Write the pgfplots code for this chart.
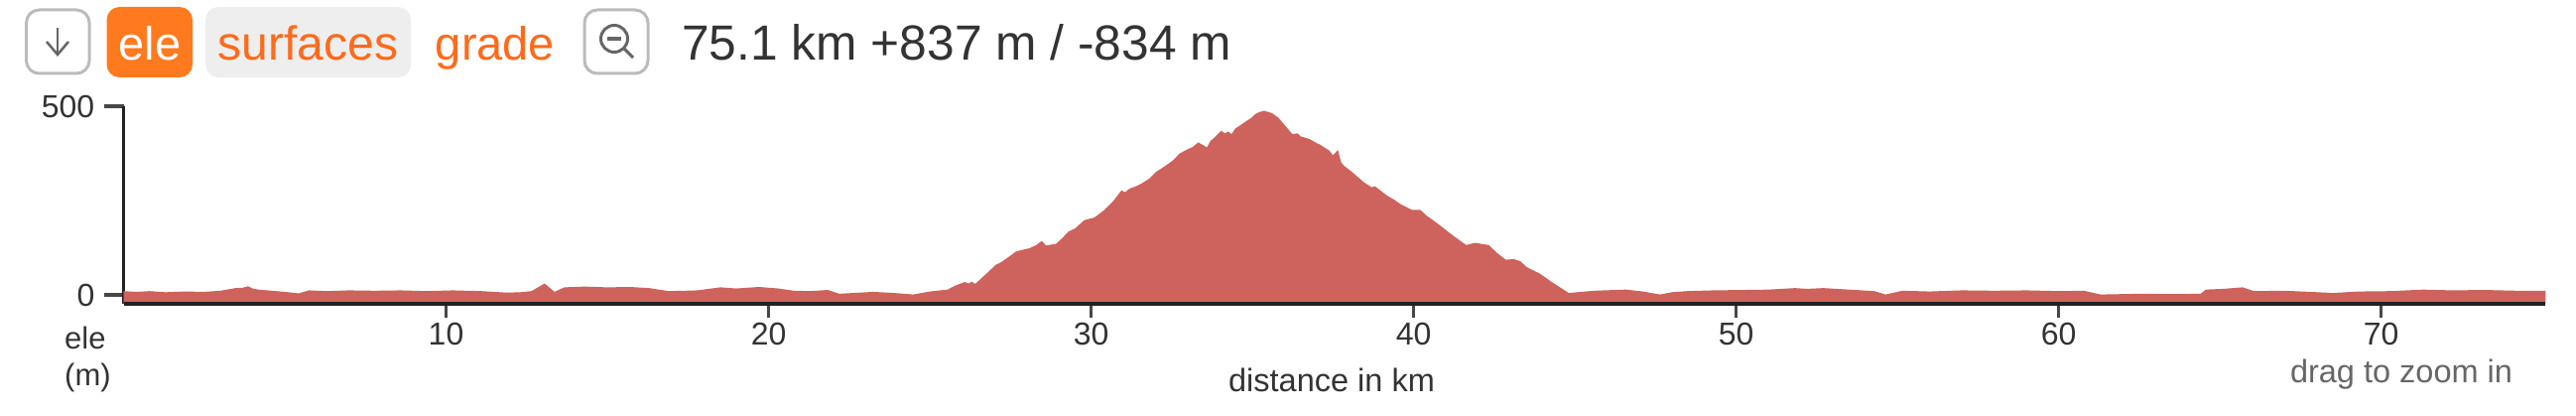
\documentclass[border=0pt]{standalone}
\usepackage{fontspec}
\setmainfont{Liberation Sans}
\usepackage{pgfplots}
\pgfplotsset{compat=1.18}
\definecolor{elefill}{HTML}{CD635C}
\definecolor{orangeA}{HTML}{FF7A1F}
\definecolor{orangeB}{HTML}{FF6A1A}
\definecolor{btn}{HTML}{BBBBBB}
\definecolor{chip}{HTML}{EEEEEE}
\definecolor{icon}{HTML}{666666}
\definecolor{ink}{HTML}{333333}
\definecolor{axisink}{HTML}{222222}
\newcommand{\fs}[1]{\fontsize{#1}{#1}\selectfont}
\begin{document}
\begin{tikzpicture}[x=1pt,y=1pt]
\useasboundingbox (0,0) rectangle (2596,418);
% toolbar
\draw[btn,line width=3pt,rounded corners=13pt] (26.5,344) rectangle (90,408);
\draw[icon,line width=2.5pt] (58,390) -- (58,363);
\draw[icon,line width=2.5pt] (47,376) -- (58,363) -- (69,376);
\fill[orangeA,rounded corners=13pt] (107.5,340) rectangle (194,411);
\node[anchor=base,text=white,inner sep=0pt] at (151,357) {\fs{47}ele};
\fill[chip,rounded corners=13pt] (207,340) rectangle (414,411);
\node[anchor=base,text=orangeB,inner sep=0pt] at (310.5,357) {\fs{48}surfaces};
\node[anchor=base,text=orangeB,inner sep=0pt] at (499,357) {\fs{47}grade};
\draw[btn,line width=3pt,rounded corners=13pt] (589,344) rectangle (653,408);
\draw[icon,line width=3pt] (619,379) circle (13.5);
\draw[icon,line width=3pt] (629,369) -- (638,360);
\draw[icon,line width=3.5pt] (612,379) -- (625.5,379);
\node[anchor=base west,text=ink,inner sep=0pt] at (687,357) {\fs{49.7}75.1 km +837 m / -834 m};
% y side labels
\node[anchor=west,text=ink,inner sep=0pt] at (65,78) {\fs{31}ele};
\node[anchor=west,text=ink,inner sep=0pt] at (65,38) {\fs{31}(m)};
\node[text=ink,inner sep=0pt] at (1342,35) {\fs{32.5}distance in km};
\node[text=icon,inner sep=0pt] at (2420,41) {\fs{32.5}drag to zoom in};
% y axis: ticks and spine
\begin{axis}[
  at={(124.5pt,112pt)},anchor=south west,
  width=2441pt,height=199pt,scale only axis,
  xmin=0,xmax=75.1,ymin=-23.7,ymax=500,
  axis x line=none,
  axis y line*=left,
  axis line style={axisink,line width=3.5pt,-},
  xtick=\empty,
  ytick={0,500},
  major tick length=20pt,
  tick align=outside,
  y tick style={color=icon!70!black,line width=3.5pt},
  yticklabel style={font=\fs{32},text=ink,inner sep=0pt,xshift=-9pt},
  /pgf/number format/assume math mode=true,
  clip=false,
]
\addplot[fill=elefill,draw=none] coordinates {
(0,-23.7)(0,10)(0.4,8)(0.8,10)(1.3,7)(1.9,9)(2.5,8)(3.0,11)(3.47,18)(3.7,19)(3.86,23)(4.0,17)(4.18,14)(4.6,11)(5.0,8)(5.43,4)(5.75,12)
(6.3,10)(7.0,12)(7.8,11)(8.6,12)(9.4,10)(10.2,12)(11.1,10)(11.87,6)(12.3,7)(12.65,10)(12.85,20)(13.05,30)(13.2,20)(13.36,8)(13.67,20)(14.3,22)(15.0,20)(15.7,21)(16.3,18)(16.9,10)(17.4,11)(17.8,12)(18.5,20)(19.0,17)(19.7,21)(20.3,17)(20.78,11)
(21.3,10)(21.84,13)(22.19,3)(23.25,8)(23.9,5)(24.49,1)(25.0,9)(25.55,14)(25.8,25)(26.08,34)(26.2,30)(26.3,35)(26.4,29)(26.52,38)(26.8,60)(27.05,80)(27.2,86)(27.3,92)(27.5,104)(27.67,115)(28.1,124)(28.3,132)(28.47,143)(28.6,131)(28.91,135)(29.1,150)(29.3,168)(29.5,176)(29.79,198)(30.1,205)(30.41,225)(30.7,250)(30.94,277)(31.05,272)(31.2,282)(31.4,288)(31.56,295)(31.8,308)(32.0,325)(32.3,342)(32.53,356)(32.75,375)(32.97,385)(33.15,392)(33.32,404)(33.45,398)(33.59,391)(33.7,408)(33.8,415)(34.03,435)(34.15,428)(34.25,433)(34.35,426)(34.47,441)(34.6,448)(34.8,460)(34.95,468)(35.09,479)(35.2,484)(35.36,488)(35.6,482)(35.80,470)(36.0,450)(36.24,426)(36.4,428)(36.5,420)(36.77,413)(37.0,402)(37.1,398)(37.39,382)(37.5,370)(37.65,384)(37.75,352)(37.83,343)(38.1,325)(38.45,299)(38.7,285)(38.8,288)(39.16,264)(39.4,252)(39.6,240)(39.95,225)(40.21,225)(40.4,210)(40.6,198)(40.85,182)(41.1,165)(41.4,146)(41.63,132)(41.9,138)(42.33,132)(42.6,110)(42.86,93)(43.1,95)(43.31,89)(43.5,74)(43.7,65)(43.9,57)(44.10,45)(44.3,33)(44.5,22)(44.81,5)(45.6,11)(46.58,14)(47.1,9)(47.64,1)(48.0,7)(48.48,10)
(49.3,12)(50.2,13)(51.0,14)(51.82,18)(52.2,16)(52.7,18)(53.5,14)(54.28,10)(54.63,1)(55.16,11)(56.0,9)(57.0,12)(58.0,11)(59.0,12)(60.0,10)(60.78,11)(61.3,1)(62.5,3)(63.5,2)(64.4,3)(64.56,14)(65.1,16)(65.7,20)(66.05,10)(67.0,11)(67.8,8)(68.5,5)(69.3,9)(70.3,10)(71.3,14)(72.2,12)(73.2,13)(74.2,11)(75.1,11)(75.1,-23.7)
};
\end{axis}
% x axis
\begin{axis}[
  at={(124.5pt,112pt)},anchor=south west,
  width=2441pt,height=199pt,scale only axis,
  xmin=0,xmax=75.1,ymin=-23.7,ymax=500,
  axis y line=none,
  axis x line*=bottom,
  axis line style={axisink,line width=3.5pt,-},
  ytick=\empty,
  xtick={10,20,30,40,50,60,70},
  major tick length=14pt,
  tick align=outside,
  x tick style={color=icon!70!black,line width=3.5pt},
  xticklabel style={font=\fs{32},text=ink,inner sep=0pt,yshift=-5pt},
  /pgf/number format/assume math mode=true,
]
\end{axis}
\end{tikzpicture}
\end{document}
